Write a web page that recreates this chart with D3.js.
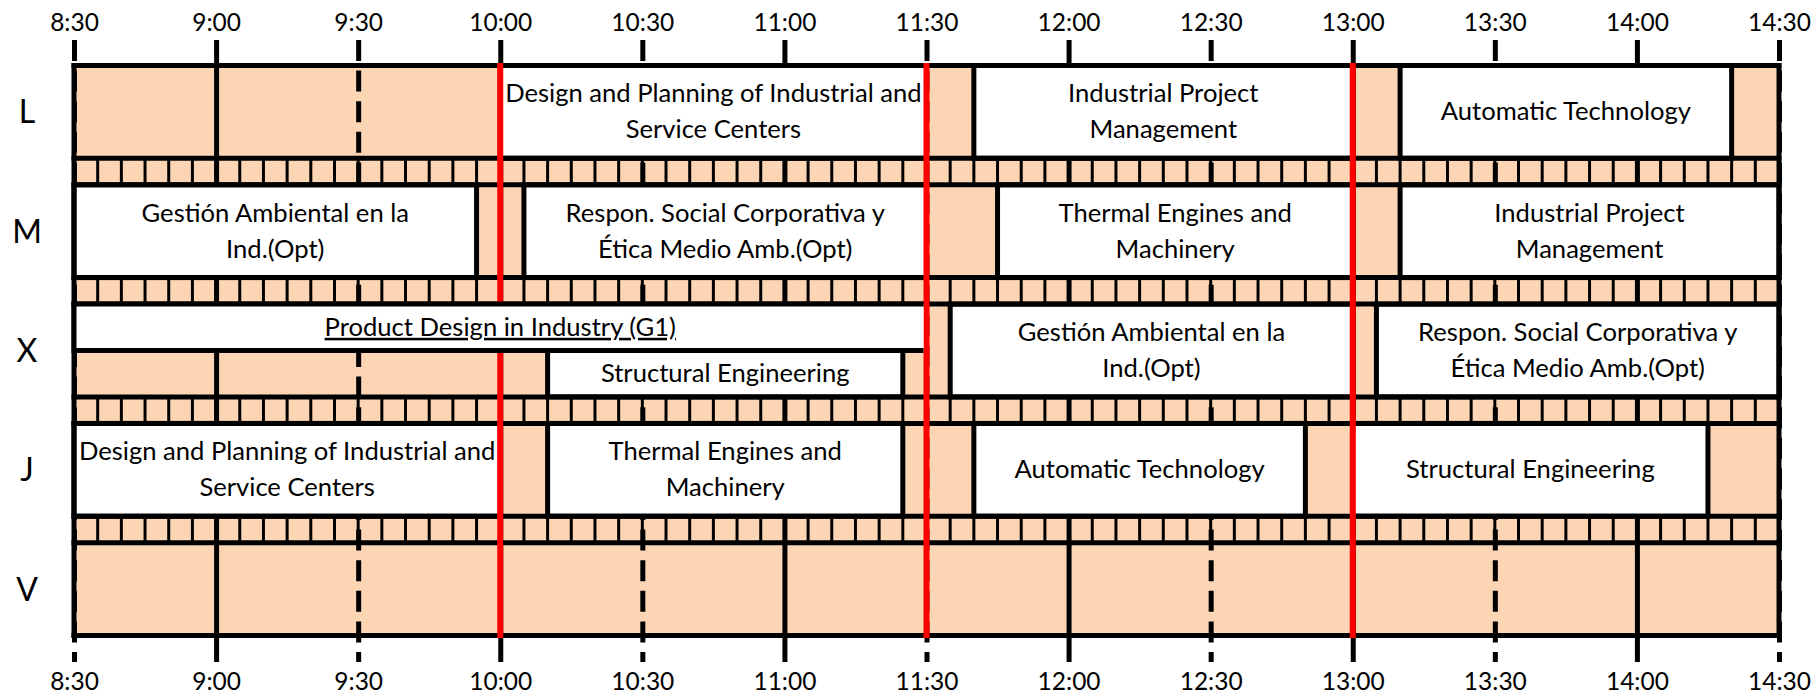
<!DOCTYPE html>
<html>
<head>
<meta charset="utf-8">
<script src="https://cdn.jsdelivr.net/npm/d3@7"></script>
<style>
  body { margin: 0; background: #fff; }
  svg { display: block; }
</style>
</head>
<body>
<svg id="chart" width="1819" height="694"></svg>
<script>

// days of the week (rows)
const days = ["L", "M", "X", "J", "V"];

// time axis labels
const tickLabels = ["8:30", "9:00", "9:30", "10:00", "10:30", "11:00", "11:30",
                    "12:00", "12:30", "13:00", "13:30", "14:00", "14:30"];

// red marker lines
const redTimes = ["10:00", "11:30", "13:00"];

// sessions per day: [start, end, title]   ("|" splits lines)
const lunes = [
    ["10:00", "11:30", "Design and Planning of Industrial and|Service Centers"],
    ["11:40", "13:00", "Industrial Project|Management"],
    ["13:10", "14:20", "Automatic Technology"]
];
const martes = [
    ["8:30", "9:55", "Gestión Ambiental en la|Ind.(Opt)"],
    ["10:05", "11:30", "Respon. Social Corporativa y|Ética Medio Amb.(Opt)"],
    ["11:45", "13:00", "Thermal Engines and|Machinery"],
    ["13:10", "14:30", "Industrial Project|Management"]
];
const miercoles = [
    ["11:35", "13:00", "Gestión Ambiental en la|Ind.(Opt)"],
    ["13:05", "14:30", "Respon. Social Corporativa y|Ética Medio Amb.(Opt)"]
];
// Wednesday morning is split in two half rows
const miercolesTop = [
    ["8:30", "11:30", "Product Design in Industry (G1)"]
];
const miercolesBottom = [
    ["10:10", "11:25", "Structural Engineering"]
];
const jueves = [
    ["8:30", "10:00", "Design and Planning of Industrial and|Service Centers"],
    ["10:10", "11:25", "Thermal Engines and|Machinery"],
    ["11:40", "12:50", "Automatic Technology"],
    ["13:00", "14:15", "Structural Engineering"]
];
const viernes = [];

const FONT = "Lato, 'Noto Sans', sans-serif";
const PEACH = "#fcd5b4";

function toMin(s) {
    let p = s.split(":").map(Number);
    return p[0] * 60 + p[1];
}

let svg = d3.select("#chart");

let x = d3.scaleLinear()
    .domain([toMin("8:30"), toMin("14:30")])
    .range([74, 1779]);

// vertical units: a day row is 3.5, a break strip is 1
let y = d3.scaleLinear()
    .domain([0, 21.5])
    .range([65.5, 635.5]);
let rowTop = i => i * 4.5;

// peach background
svg.append("rect")
    .attr("x", x(toMin("8:30")))
    .attr("y", y(0))
    .attr("width", x(toMin("14:30")) - x(toMin("8:30")))
    .attr("height", y(21.5) - y(0))
    .attr("fill", PEACH);

// 5 minute cells in the break strips
let fiveMin = d3.range(toMin("8:30"), toMin("14:30") + 1, 5);
for (let i = 0; i < days.length - 1; i++) {
    svg.append("g").selectAll("line")
        .data(fiveMin)
        .enter()
        .append("line")
          .attr("x1", d => x(d))
          .attr("x2", d => x(d))
          .attr("y1", y(rowTop(i) + 3.5))
          .attr("y2", y(rowTop(i) + 4.5))
          .attr("stroke", "#000")
          .attr("stroke-width", 3);
}

// top axis, its ticks run down as grid lines
let tickVals = tickLabels.map(toMin);
let gTop = svg.append("g")
    .attr("transform", "translate(0,40)")
    .call(d3.axisTop(x)
        .tickValues(tickVals)
        .tickFormat((d, i) => tickLabels[i])
        .tickSize(-622)
        .tickPadding(9));
gTop.select(".domain").remove();
gTop.selectAll(".tick line")
    .attr("stroke", "#000")
    .attr("stroke-width", 5)
    .attr("stroke-dasharray", d => d % 60 === 30 ? "21,9.6" : null);

let gBot = svg.append("g")
    .attr("transform", "translate(0,662)")
    .call(d3.axisBottom(x)
        .tickValues(tickVals)
        .tickFormat((d, i) => tickLabels[i])
        .tickSize(0)
        .tickPadding(11));
gBot.select(".domain").remove();

svg.selectAll(".tick text")
    .attr("font-family", FONT)
    .attr("font-size", 24.5)
    .attr("fill", "#000");

// collect boxes
let boxes = [];
[lunes, martes, miercoles, jueves, viernes].forEach((list, i) => {
    list.forEach(s => boxes.push({ s: s[0], e: s[1], name: s[2], y0: rowTop(i), y1: rowTop(i) + 3.5 }));
});
miercolesBottom.forEach(s => boxes.push({ s: s[0], e: s[1], name: s[2], y0: rowTop(2) + 1.75, y1: rowTop(2) + 3.5 }));
let links = miercolesTop.map(s => ({ s: s[0], e: s[1], name: s[2], y0: rowTop(2), y1: rowTop(2) + 1.75, link: true }));

svg.append("g").selectAll("rect")
    .data(boxes)
    .enter()
    .append("rect")
      .attr("x", d => x(toMin(d.s)))
      .attr("y", d => y(d.y0))
      .attr("width", d => x(toMin(d.e)) - x(toMin(d.s)))
      .attr("height", d => y(d.y1) - y(d.y0))
      .attr("fill", "#fff")
      .attr("stroke", "#000")
      .attr("stroke-width", 5);

// row borders
let edges = [];
for (let i = 0; i < days.length; i++) {
    edges.push(rowTop(i), rowTop(i) + 3.5);
}
svg.append("g").selectAll("line")
    .data(edges)
    .enter()
    .append("line")
      .attr("x1", x(toMin("8:30")))
      .attr("x2", x(toMin("14:30")))
      .attr("y1", d => y(d))
      .attr("y2", d => y(d))
      .attr("stroke", "#000")
      .attr("stroke-width", 5)
      .attr("stroke-linecap", "square");

svg.append("rect")
    .attr("x", x(toMin("8:30")))
    .attr("y", y(0))
    .attr("width", x(toMin("14:30")) - x(toMin("8:30")))
    .attr("height", y(21.5) - y(0))
    .attr("fill", "none")
    .attr("stroke", "#000")
    .attr("stroke-width", 5);

// red lines
svg.append("g").selectAll("line")
    .data(redTimes)
    .enter()
    .append("line")
      .attr("x1", d => x(toMin(d)))
      .attr("x2", d => x(toMin(d)))
      .attr("y1", y(0) - 2.5)
      .attr("y2", y(21.5) + 2.5)
      .attr("stroke", "#ff0000")
      .attr("stroke-width", 6);

// the linked session sits over the red lines, open on its right side
svg.append("g").selectAll("rect")
    .data(links)
    .enter()
    .append("rect")
      .attr("x", d => x(toMin(d.s)))
      .attr("y", d => y(d.y0))
      .attr("width", d => x(toMin(d.e)) - x(toMin(d.s)) - 3)
      .attr("height", d => y(d.y1) - y(d.y0))
      .attr("fill", "#fff")
      .attr("stroke", "#000")
      .attr("stroke-width", 5)
      .attr("stroke-dasharray", function(d) {
          let w = x(toMin(d.e)) - x(toMin(d.s)) - 3, h = y(d.y1) - y(d.y0);
          return w + "," + h + "," + (w + h) + ",0";
      });

// session titles
boxes.concat(links).forEach(b => {
    let lines = b.name.split("|");
    let cx = (x(toMin(b.s)) + x(toMin(b.e))) / 2;
    let cy = (y(b.y0) + y(b.y1)) / 2;
    let t = svg.append("text")
        .attr("text-anchor", "middle")
        .attr("font-family", FONT)
        .attr("font-size", 25.6)
        .attr("fill", "#000");
    if (b.link) t.attr("text-decoration", "underline");
    lines.forEach((l, k) => {
        t.append("tspan")
            .attr("x", cx)
            .attr("y", cy + (k - (lines.length - 1) / 2) * 36 + 8.5)
            .text(l);
    });
});

// day labels
svg.append("g").selectAll("text")
    .data(days)
    .enter()
    .append("text")
      .attr("x", 27)
      .attr("y", (d, i) => (y(rowTop(i)) + y(rowTop(i) + 3.5)) / 2)
      .attr("dy", "0.36em")
      .attr("text-anchor", "middle")
      .attr("font-family", FONT)
      .attr("font-size", 32)
      .attr("fill", "#000")
      .text(d => d);

</script>
</body>
</html>
